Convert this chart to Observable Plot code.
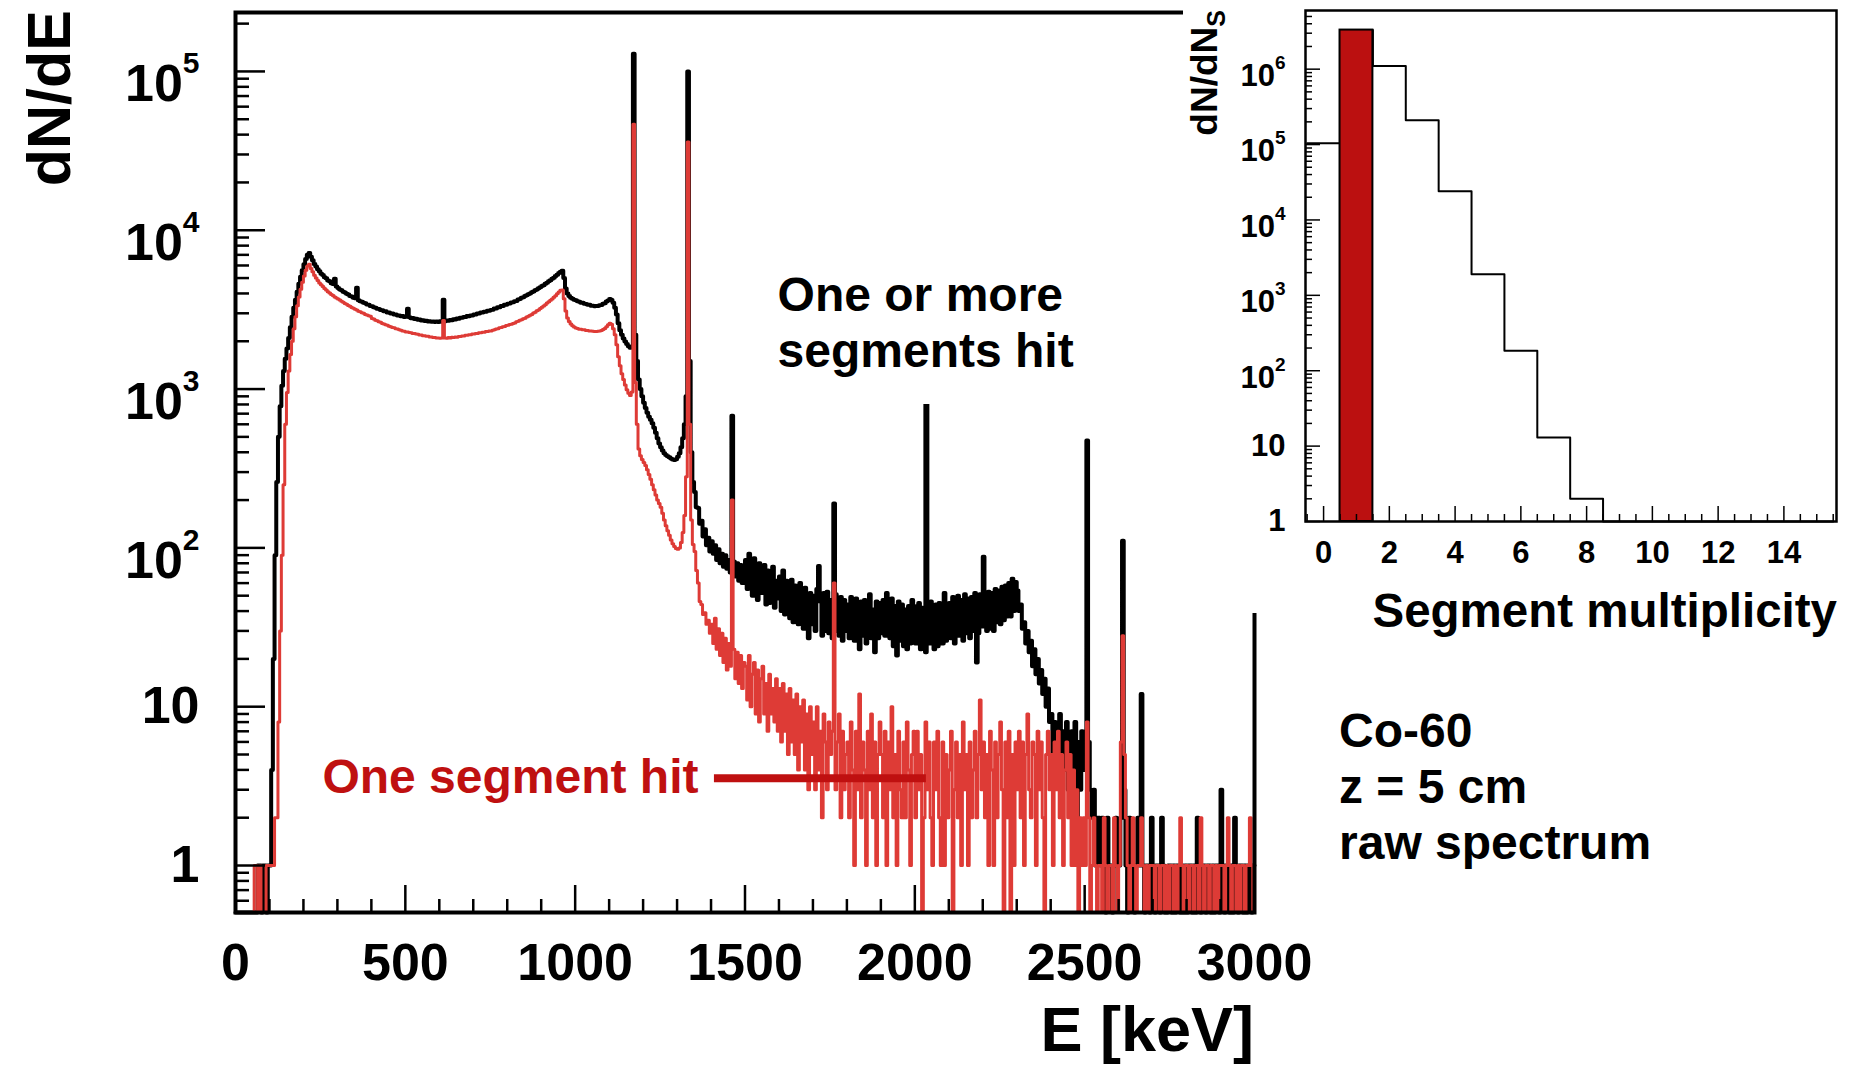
<!DOCTYPE html>
<html><head><meta charset="utf-8">
<script src="https://cdn.jsdelivr.net/npm/d3@7"></script>
<script src="https://cdn.jsdelivr.net/npm/@observablehq/plot@0.6"></script>
<style>
body{margin:0;background:#fff}
#wrap{position:relative;width:1854px;height:1066px;overflow:hidden;background:#fff}
#wrap svg{position:absolute;max-width:none}
</style></head><body><div id="wrap"></div>
<script>
// ---------------- data ----------------
const binWidth = 5; // keV per bin, bins start at 0 keV
// all events ("One or more segments hit"), counts per bin
const countsAll = [
0,0,0,0,0,0,0,0,0,0,0,0,0,1,1,0,1,1,0,1,
1,4,20,90,260,500,780,1050,1300,1550,1800,2100,2450,2850,3250,3650,4100,4600,5100,5600,
6100,6600,7000,7200,6800,6480,6130,5920,5680,5520,5330,5230,5050,4990,4830,4770,4640,4590,4950,4420,
4330,4240,4190,4100,4060,3980,3940,3860,3830,3760,3730,4350,3630,3570,3550,3490,3470,3410,3390,3340,
3320,3270,3250,3200,3190,3150,3140,3090,3090,3040,3040,2990,2990,2950,2950,2910,2910,2870,2880,2840,
2850,3200,2830,2790,2800,2760,2770,2730,2740,2700,2710,2680,2690,2660,2670,2650,2660,2640,2660,2640,
2670,2650,3650,2670,2700,2690,2720,2710,2750,2740,2780,2770,2810,2810,2840,2840,2880,2870,2910,2910,
2950,2950,2990,2990,3030,3030,3070,3070,3110,3110,3150,3160,3210,3220,3270,3280,3330,3340,3390,3400,
3450,3460,3510,3520,3570,3590,3660,3690,3760,3790,3860,3890,3960,3990,4070,4110,4190,4230,4320,4370,
4460,4510,4610,4670,4770,4840,4950,5030,5150,5240,5390,5470,5550,5000,4300,4000,3860,3760,3710,3650,
3630,3570,3550,3500,3490,3440,3430,3390,3390,3350,3350,3320,3340,3330,3370,3380,3440,3470,3560,3610,
3690,3640,3500,3250,2950,2600,2350,2200,2080,1990,1920,1860,1820,1850,129000,2200,1500,1150,1000,900,
820,760,710,670,640,610,570,530,490,455,430,410,395,385,378,372,366,360,358,362,
375,395,430,490,600,900,100000,1500,400,260,225,180,178,142,148,118,131,104,116,95,
110,92,104,84,98,80,92,76,90,74,84,70,680,82,66,80,62,78,60,76,
84,55,92,58,50,86,56,47,80,52,54,78,44,72,45,66,76,42,62,48,
66,40,72,38,62,41,36,63,34,58,44,33,60,37,31,56,36,27,52,33,
50,30,55,77,46,28,52,30,53,29,47,27,190,51,30,28,49,26,47,30,
44,27,49,31,26,48,29,23,46,28,47,25,44,51,27,41,22,46,27,45,
29,47,28,52,30,27,48,24,43,21,46,26,44,24,41,23,43,25,47,27,
25,43,45,23,42,26,22,41,25,46,29,23,44,24,45,28,25,52,26,42,
45,27,49,25,44,50,28,47,26,51,29,48,27,49,30,52,19,29,51,32,
88,48,30,53,31,52,30,55,34,54,33,57,35,58,37,60,37,64,40,61,
54,40,44,31,34,25,30,22,26,18,23,16,20,14,17,12,15,10,13,8,
9,5,8,4,6,9,3,7,4,8,3,6,7,3,8,2,6,3,7,4,
4,475,6,3,2,3,1,2,2,1,2,1,0,2,1,1,0,1,2,1,
1,2,111,3,1,0,2,1,1,0,1,2,1,12,1,0,1,1,0,2,
1,0,1,1,0,2,1,0,0,1,1,0,1,0,1,1,0,1,0,1,
0,1,1,0,1,0,2,1,0,1,1,0,1,1,0,1,0,1,1,0,
3,1,0,1,1,0,1,0,2,1,0,1,1,0,1,0,1,1,0,1
];
// single-segment events ("One segment hit"), counts per bin
const countsOne = [
0,0,0,0,0,0,0,0,0,0,0,1,1,0,1,0,0,0,1,1,
1,1,1,2,2,8,30,90,250,600,950,1300,1650,2000,2400,2850,3350,3800,4250,4700,
5150,5600,5950,6100,5750,5470,5200,5000,4820,4660,4540,4420,4300,4210,4100,4030,3940,3880,3800,3750,
3690,3640,3570,3520,3460,3420,3360,3320,3260,3230,3180,3150,3090,3070,3020,3000,2950,2930,2890,2870,
2780,2760,2710,2690,2650,2630,2590,2570,2540,2520,2490,2470,2440,2430,2400,2390,2360,2350,2320,2310,
2290,2290,2270,2260,2240,2240,2220,2210,2190,2190,2170,2170,2150,2150,2130,2130,2110,2110,2100,2100,
2090,2100,2700,2100,2090,2110,2100,2120,2110,2130,2120,2140,2140,2160,2160,2180,2180,2200,2200,2220,
2220,2240,2240,2260,2260,2280,2280,2300,2300,2320,2320,2350,2360,2390,2400,2430,2440,2470,2480,2510,
2520,2550,2560,2590,2610,2650,2670,2710,2730,2770,2790,2840,2870,2920,2950,3010,3050,3110,3150,3220,
3270,3340,3400,3480,3540,3620,3690,3790,3870,3980,4080,4190,4200,3700,3100,2800,2660,2570,2500,2460,
2420,2410,2380,2380,2360,2360,2340,2340,2320,2320,2310,2300,2300,2310,2320,2340,2370,2410,2470,2540,
2600,2560,2400,2200,1900,1600,1400,1250,1150,1060,990,940,910,960,46500,1100,600,420,380,360,
345,330,310,290,270,250,232,215,200,190,180,165,150,138,128,120,112,106,102,99,
98,100,108,125,160,280,36000,600,150,105,95,72,60,46,44,38,39,33,35,29,
33,25,36,23,31,21,29,19,27,17,25,18,200,23,15,22,14,21,13,19,
18,11,21,10,16,19,9,17,8,15,18,9,14,7,16,9,13,8,15,7,
13,6,14,7,12,5,13,6,11,5,12,4,10,6,11,4,9,3,10,5,
8,3,10,4,7,2,9,6,3,8,5,7,60,3,6,9,2,7,3,5,
6,2,8,4,1,7,3,12,2,6,4,1,7,3,9,2,6,1,5,8,
5,2,7,1,6,3,10,2,5,1,7,3,2,6,2,8,4,1,5,7,
2,7,3,5,0,2,8,3,6,2,1,6,3,7,2,1,6,1,5,2,
4,7,0,3,6,2,5,1,8,3,5,1,6,2,4,7,2,5,11,3,
6,2,5,1,7,4,1,6,2,5,8,3,0,6,2,7,0,5,1,6,
3,7,2,6,1,5,9,3,2,6,5,1,7,3,6,2,0,5,7,3,
5,1,6,3,7,2,5,1,4,6,2,5,1,4,1,3,0,2,1,2,
1,8,2,0,1,2,1,0,1,1,0,2,1,0,1,1,0,2,1,0,
1,6,28,5,2,1,0,1,2,1,0,1,1,2,1,0,1,0,1,1,
1,0,1,1,0,1,1,0,1,0,1,1,0,1,0,1,2,1,0,1,
1,0,1,1,0,1,1,0,2,1,0,1,1,0,1,1,0,1,0,1,
1,1,0,1,2,1,0,1,1,0,1,0,1,1,0,1,1,2,1,0
];
const xTickLabels = [0, 500, 1000, 1500, 2000, 2500, 3000];
const yTickLabels = [1, 10, 100, 1e3, 1e4, 1e5];

// annotations (data coordinates: E in keV, counts)
const notesAll = [{E: 1596, n: 3900, text: "One or more"}, {E: 1596, n: 1710, text: "segments hit"}];
const pointerAll = [{E: 2034, n1: 40, n2: 800}];
const notesOne = [{E: 1363, n: 3.58, text: "One segment hit"}];
const pointerOne = [{E1: 1410, E2: 2034, n: 3.55}];

// inset: segment multiplicity
const multiplicity = [0,1,2,3,4,5,6,7,8,9,10,11,12,13,14,15];
const countsMult = [104000, 3300000, 1100000, 210000, 24000, 1900, 184, 13, 2, 0, 0, 0, 0, 0, 0, 0];
const oneHitBin = 1;
const multTickLabels = [0, 2, 4, 6, 8, 10, 12, 14];
const multYTickLabels = [1, 10, 100, 1e3, 1e4, 1e5, 1e6];

// ---------------- helpers ----------------
const FONT = "'Liberation Sans', Arial, Helvetica, sans-serif";
const RED_LINE = "#de3b36", RED_TEXT = "#bf1010";
const wrap = document.getElementById("wrap");

function logTicks(domain) {
  const out = [];
  for (let e = Math.floor(Math.log10(domain[0])); e <= Math.ceil(Math.log10(domain[1])); e++)
    for (let k = 2; k <= 9; k++) {
      const t = k * Math.pow(10, e);
      if (t > domain[0] && t < domain[1]) out.push(t);
    }
  return out;
}
const expLabel = d => d < 100 ? String(d) : "10^" + Math.round(Math.log10(d));
function raiseExponents(svg, baseShift, supSize, supRise) {
  const NS = "http://www.w3.org/2000/svg";
  svg.querySelectorAll("text").forEach(t => {
    const s = t.textContent, k = s.indexOf("^");
    if (k < 0) return;
    while (t.firstChild) t.removeChild(t.firstChild);
    const b = document.createElementNS(NS, "tspan");
    b.setAttribute("dy", baseShift);
    b.textContent = s.slice(0, k);
    const e = document.createElementNS(NS, "tspan");
    e.setAttribute("dy", -supRise);
    e.setAttribute("font-size", supSize);
    e.textContent = s.slice(k + 1);
    t.append(b, e);
  });
}
function histPoints(counts, width) {
  const pts = counts.map((n, i) => ({E: i * width, n}));
  pts.push({E: counts.length * width, n: counts[counts.length - 1]});
  return pts;
}

// ---------------- main spectrum ----------------
const W = 1330, H = 1066, mL = 235, mR = 76, mT = 12, mB = 154;
const innerW = W - mL - mR, innerH = H - mT - mB;
const yDomain = [0.506, 2.35e5];
const floorY = d => Math.max(d.n, yDomain[0]);
const xMinor = d3.range(100, 3000, 100).filter(v => v % 500);

const main = Plot.plot({
  width: W, height: H,
  marginLeft: mL, marginRight: mR, marginTop: mT, marginBottom: mB,
  x: {domain: [0, 3000], axis: null},
  y: {type: "log", domain: yDomain, axis: null},
  style: {fontFamily: FONT, fontWeight: "bold", background: "transparent", color: "#000"},
  marks: [
    Plot.line(histPoints(countsAll, binWidth), {x: "E", y: floorY, curve: "step-after", stroke: "#000", strokeWidth: 4}),
    Plot.line(histPoints(countsOne, binWidth), {x: "E", y: floorY, curve: "step-after", stroke: RED_LINE, strokeWidth: 3}),
    Plot.ruleY(logTicks(yDomain), {stroke: "#000", strokeWidth: 2.5, insetRight: innerW - 14}),
    Plot.ruleY(yTickLabels, {stroke: "#000", strokeWidth: 2.5, insetRight: innerW - 30}),
    Plot.ruleX(xMinor, {stroke: "#000", strokeWidth: 2.5, insetTop: innerH - 13}),
    Plot.ruleX(xTickLabels, {stroke: "#000", strokeWidth: 2.5, insetTop: innerH - 27}),
    Plot.frame({stroke: "#000", strokeWidth: 4}),
    Plot.axisX({ticks: xTickLabels, tickSize: 0, tickPadding: 31, tickFormat: d => String(d), fontSize: 52, label: null}),
    Plot.axisY({ticks: yTickLabels, tickSize: 0, tickPadding: 36, tickFormat: expLabel, fontSize: 52, label: null}),
    Plot.ruleX(pointerAll, {x: "E", y1: "n1", y2: "n2", stroke: "#000", strokeWidth: 6}),
    Plot.ruleY(pointerOne, {y: "n", x1: "E1", x2: "E2", stroke: RED_TEXT, strokeWidth: 8}),
    Plot.text(notesAll, {x: "E", y: "n", text: "text", textAnchor: "start", fontSize: 48, fill: "#000"}),
    Plot.text(notesOne, {x: "E", y: "n", text: "text", textAnchor: "end", fontSize: 48, fill: RED_TEXT})
  ]
});
main.style.left = "0px"; main.style.top = "0px";
raiseExponents(main, 13, 30, 28);
wrap.appendChild(main);

// ---------------- inset: segment multiplicity ----------------
const IW = 671, IH = 613, iL = 122, iR = 18, iT = 10, iB = 92;
const iInnerW = IW - iL - iR, iInnerH = IH - iT - iB;
const iyDomain = [1, 6e6];
const multPts = multiplicity.map((m, i) => ({x: m - 0.5, n: countsMult[i]}));
multPts.push({x: multiplicity[multiplicity.length - 1] + 0.5, n: countsMult[countsMult.length - 1]});
const multMinorX = d3.range(-0.5, 15.6, 0.5).filter(v => !multTickLabels.includes(v));
const bar = [{m: multiplicity[oneHitBin], n: countsMult[oneHitBin]}];

const inset = Plot.plot({
  width: IW, height: IH,
  marginLeft: iL, marginRight: iR, marginTop: iT, marginBottom: iB,
  x: {domain: [-0.55, 15.6], axis: null},
  y: {type: "log", domain: iyDomain, axis: null},
  style: {fontFamily: FONT, fontWeight: "bold", background: "#fff", color: "#000"},
  marks: [
    Plot.line(multPts, {x: "x", y: d => Math.max(d.n, iyDomain[0]), curve: "step-after", stroke: "#000", strokeWidth: 2}),
    Plot.rectY(bar, {x1: d => d.m - 0.5, x2: d => d.m + 0.5, y1: iyDomain[0], y2: "n", fill: "#bb1010", stroke: "#000", strokeWidth: 2}),
    Plot.ruleY(logTicks(iyDomain), {stroke: "#000", strokeWidth: 1.5, insetRight: iInnerW - 7}),
    Plot.ruleY(multYTickLabels, {stroke: "#000", strokeWidth: 1.5, insetRight: iInnerW - 15}),
    Plot.ruleX(multMinorX, {stroke: "#000", strokeWidth: 1.5, insetTop: iInnerH - 7}),
    Plot.ruleX(multTickLabels, {stroke: "#000", strokeWidth: 1.5, insetTop: iInnerH - 15}),
    Plot.frame({stroke: "#000", strokeWidth: 2.5}),
    Plot.axisX({ticks: multTickLabels, tickSize: 0, tickPadding: 19, tickFormat: d => String(d), fontSize: 31, label: null}),
    Plot.axisY({ticks: multYTickLabels, tickSize: 0, tickPadding: 20, tickFormat: expLabel, fontSize: 31, label: null})
  ]
});
inset.style.left = "1183px"; inset.style.top = "0px";
raiseExponents(inset, 7, 19, 17);
wrap.appendChild(inset);

// ---------------- titles & notes ----------------
const ov = d3.create("svg").attr("width", 1854).attr("height", 1066)
  .style("left", "0px").style("top", "0px")
  .attr("font-family", FONT).attr("font-weight", "bold").attr("fill", "#000");
ov.append("text").attr("transform", "translate(70,10) rotate(-90)").attr("text-anchor", "end")
  .attr("font-size", 61).text("dN/dE");
ov.append("text").attr("x", 1254).attr("y", 1051).attr("text-anchor", "end").attr("font-size", 63).text("E [keV]");
const t2 = ov.append("text").attr("transform", "translate(1217,10) rotate(-90)").attr("text-anchor", "end").attr("font-size", 37);
t2.append("tspan").text("dN/dN");
t2.append("tspan").attr("font-size", 25).attr("dy", 8).text("S");
ov.append("text").attr("x", 1837).attr("y", 627).attr("text-anchor", "end").attr("font-size", 47.5).text("Segment multiplicity");
const noteLines = ["Co-60", "z = 5 cm", "raw spectrum"];
noteLines.forEach((s, i) => ov.append("text").attr("x", 1339).attr("y", 747 + i * 56).attr("font-size", 48).text(s));
wrap.appendChild(ov.node());
</script></body></html>
